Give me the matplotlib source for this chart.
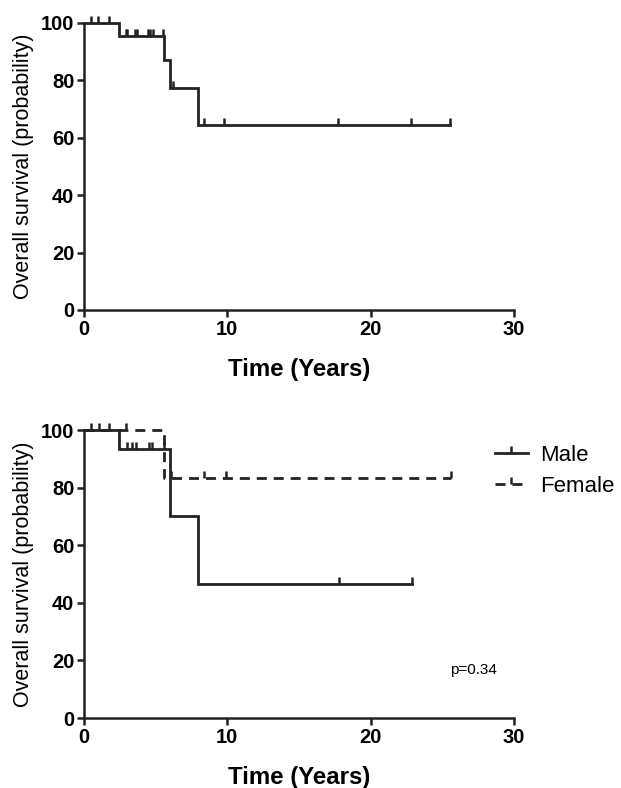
import numpy as np
import matplotlib
matplotlib.use('Agg')
import matplotlib.pyplot as plt
from matplotlib.lines import Line2D

plt.rcParams['font.family'] = ['Liberation Sans', 'DejaVu Sans']

# all patients
all_times = [0, 2.46, 5.6, 6.0, 7.98, 25.5]
all_surv = [100, 95.5, 86.9, 77.2, 64.4, 64.4]
all_censored = [0.47, 1.0, 1.74, 2.9, 3.0, 3.56, 3.72, 4.49, 4.6, 4.79, 5.49,
                6.19, 8.37, 9.77, 17.7, 22.8, 25.5]

# by sex
male_times = [0, 2.46, 6.0, 7.98, 22.9]
male_surv = [100, 93.3, 70.0, 46.7, 46.7]
male_censored = [0.47, 1.05, 1.74, 3.0, 3.37, 3.6, 4.53, 4.76, 5.58, 17.8, 22.9]

female_times = [0, 5.6, 25.6]
female_surv = [100, 83.3, 83.3]
female_censored = [2.9, 6.05, 8.4, 9.9, 25.6]

p_text = 'p=0.34'


def surv_at(times, surv, t):
    idx = np.searchsorted(times, t, side='right') - 1
    return np.asarray(surv)[idx]


def km_curve(ax, times, surv, censored, ls='-'):
    lw = 2.0
    ax.step(times, surv, where='post', color='#222222', lw=lw, ls=ls,
            clip_on=False, solid_joinstyle='miter')
    ax.plot(censored, surv_at(times, surv, censored), ls='none', marker=2,
            markersize=5, mew=1.8, color='#222222', clip_on=False)


def style_axes(ax):
    ax.set_xlim(0, 30)
    ax.set_ylim(0, 100)
    ax.set_xticks([0, 10, 20, 30])
    ax.set_yticks([0, 20, 40, 60, 80, 100])
    for s in ['top', 'right']:
        ax.spines[s].set_visible(False)
    for s in ['left', 'bottom']:
        ax.spines[s].set_linewidth(1.8)
        ax.spines[s].set_color('#222222')
    ax.tick_params(direction='out', length=5, width=1.8, color='#222222',
                   labelsize=14.5, pad=2)
    for lab in ax.get_xticklabels() + ax.get_yticklabels():
        lab.set_fontweight('bold')
    ax.set_xlabel('Time (Years)', fontsize=17.3, fontweight='bold', labelpad=14)
    ax.set_ylabel('Overall survival (probability)', fontsize=15.5, labelpad=5)


fig = plt.figure(figsize=(6.21, 7.88), dpi=100)
ax1 = fig.add_axes([0.1353, 0.6066, 0.6924, 0.3646])
ax2 = fig.add_axes([0.1353, 0.0888, 0.6924, 0.3655])

km_curve(ax1, all_times, all_surv, all_censored)
style_axes(ax1)

km_curve(ax2, male_times, male_surv, male_censored)
km_curve(ax2, female_times, female_surv, female_censored, ls=(0, (3.6, 2.5)))
style_axes(ax2)

handles = [Line2D([], [], color='#222222', lw=2, marker=2, markersize=5, mew=1.8),
           Line2D([], [], color='#222222', lw=2, ls=(0, (3.6, 2.5)), marker=2,
                  markersize=5, mew=1.8)]
leg = ax2.legend(handles, ['Male', 'Female'], loc='upper left', numpoints=1,
                 bbox_to_anchor=(0.936, 0.98), frameon=False, fontsize=16,
                 handlelength=1.45, handletextpad=0.55, labelspacing=0.45,
                 borderaxespad=0)

ax2.text(0.905, 0.167, p_text, transform=ax2.transAxes, fontsize=11,
         ha='center', va='center')

fig.savefig('out.png', dpi=100)
